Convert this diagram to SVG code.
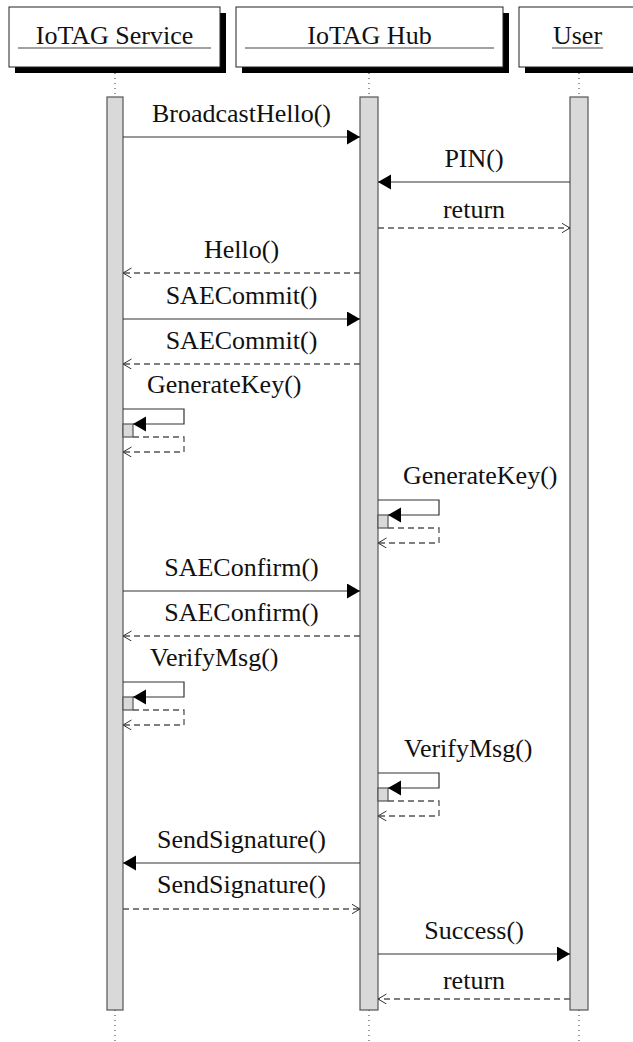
<svg xmlns="http://www.w3.org/2000/svg" width="633" height="1042" viewBox="0 0 633 1042">
  <style>
    text { font-family: "Liberation Serif", "Times New Roman", serif; font-size: 26px; fill: #111; }
    .mid { text-anchor: middle; }
    .shadow { fill: #000; }
    .head { fill: #fff; stroke: #222; stroke-width: 1; }
    .uline { stroke: #444; stroke-width: 1.2; }
    .life { stroke: #333; stroke-width: 1; stroke-dasharray: 1 4; fill: none; }
    .bar { fill: #d9d9d9; stroke: #555; stroke-width: 1.2; }
    .msg { stroke: #333; stroke-width: 1.2; fill: none; marker-end: url(#solidHead); }
    .ret { stroke: #555; stroke-width: 1.3; fill: none; stroke-dasharray: 6 4; marker-end: url(#openHead); }
  </style>
  <defs>
    <marker id="solidHead" markerUnits="userSpaceOnUse" markerWidth="14" markerHeight="16" refX="13" refY="7.5" orient="auto">
      <path d="M0,0 L13,7.5 L0,15 Z" fill="#000"/>
    </marker>
    <marker id="openHead" markerUnits="userSpaceOnUse" markerWidth="10" markerHeight="12" refX="8.5" refY="5" orient="auto">
      <path d="M0,0 L8.5,5 L0,10" fill="none" stroke="#333" stroke-width="1"/>
    </marker>
  </defs>

  <!-- lifelines (dotted) -->
  <g id="lifelines">
    <line class="life" x1="115" y1="73" x2="115" y2="97"/>
    <line class="life" x1="115" y1="1010" x2="115" y2="1042"/>
    <line class="life" x1="369" y1="73" x2="369" y2="97"/>
    <line class="life" x1="369" y1="1010" x2="369" y2="1042"/>
    <line class="life" x1="579" y1="73" x2="579" y2="97"/>
    <line class="life" x1="579" y1="1010" x2="579" y2="1042"/>
  </g>

  <!-- participants -->
  <g id="service">
    <rect class="shadow" x="15" y="13" width="211" height="60"/>
    <rect class="head" x="9" y="7" width="211" height="60"/>
    <line class="uline" x1="18" y1="48" x2="211" y2="48"/>
    <text class="mid" x="114.5" y="44">IoTAG Service</text>
    <rect class="bar" x="107" y="97" width="16" height="913"/>
  </g>
  <g id="hub">
    <rect class="shadow" x="242" y="13" width="267" height="60"/>
    <rect class="head" x="236" y="7" width="267" height="60"/>
    <line class="uline" x1="245" y1="48" x2="494" y2="48"/>
    <text class="mid" x="369.5" y="44">IoTAG Hub</text>
    <rect class="bar" x="360" y="97" width="18" height="913"/>
  </g>
  <g id="user">
    <rect class="shadow" x="525" y="13" width="130" height="60"/>
    <rect class="head" x="519" y="7" width="130" height="60"/>
    <line class="uline" x1="552" y1="48" x2="603" y2="48"/>
    <text class="mid" x="577.5" y="44">User</text>
    <rect class="bar" x="570" y="97" width="18" height="913"/>
  </g>

  <!-- nested activations of self calls -->
  <g id="nested">
    <rect class="bar" x="123" y="424" width="10" height="13"/>
    <rect class="bar" x="378" y="515" width="10" height="13"/>
    <rect class="bar" x="123" y="697" width="10" height="13"/>
    <rect class="bar" x="378" y="788" width="10" height="13"/>
  </g>

  <!-- messages -->
  <g id="connectors">
    <line class="msg" x1="123" y1="137" x2="360" y2="137"/>
    <line class="msg" x1="570" y1="182" x2="378" y2="182"/>
    <line class="ret" x1="378" y1="228" x2="570" y2="228"/>
    <line class="ret" x1="360" y1="273" x2="123" y2="273"/>
    <line class="msg" x1="123" y1="319" x2="360" y2="319"/>
    <line class="ret" x1="360" y1="364" x2="123" y2="364"/>

    <path class="msg" d="M123,409 H184 V424 H133"/>
    <path class="ret" d="M133,437 H184 V452 H123"/>
    <path class="msg" d="M378,500 H439 V515 H388"/>
    <path class="ret" d="M388,528 H439 V543 H378"/>

    <line class="msg" x1="123" y1="591" x2="360" y2="591"/>
    <line class="ret" x1="360" y1="636" x2="123" y2="636"/>

    <path class="msg" d="M123,682 H184 V697 H133"/>
    <path class="ret" d="M133,710 H184 V725 H123"/>
    <path class="msg" d="M378,773 H439 V788 H388"/>
    <path class="ret" d="M388,801 H439 V816 H378"/>

    <line class="msg" x1="360" y1="863" x2="123" y2="863"/>
    <line class="ret" x1="123" y1="909" x2="360" y2="909"/>
    <line class="msg" x1="378" y1="954" x2="570" y2="954"/>
    <line class="ret" x1="570" y1="999" x2="378" y2="999"/>
  </g>

  <!-- message labels -->
  <g id="labels">
    <text class="mid" x="241.5" y="122">BroadcastHello()</text>
    <text class="mid" x="474" y="167">PIN()</text>
    <text class="mid" x="474" y="218">return</text>
    <text class="mid" x="241.5" y="258">Hello()</text>
    <text class="mid" x="241.5" y="304">SAECommit()</text>
    <text class="mid" x="241.5" y="349">SAECommit()</text>
    <text x="147" y="393">GenerateKey()</text>
    <text x="403" y="484">GenerateKey()</text>
    <text class="mid" x="241.5" y="576">SAEConfirm()</text>
    <text class="mid" x="241.5" y="621">SAEConfirm()</text>
    <text x="150" y="666">VerifyMsg()</text>
    <text x="404" y="757">VerifyMsg()</text>
    <text class="mid" x="241.5" y="848">SendSignature()</text>
    <text class="mid" x="241.5" y="893">SendSignature()</text>
    <text class="mid" x="474" y="939">Success()</text>
    <text class="mid" x="474" y="989">return</text>
  </g>
</svg>
